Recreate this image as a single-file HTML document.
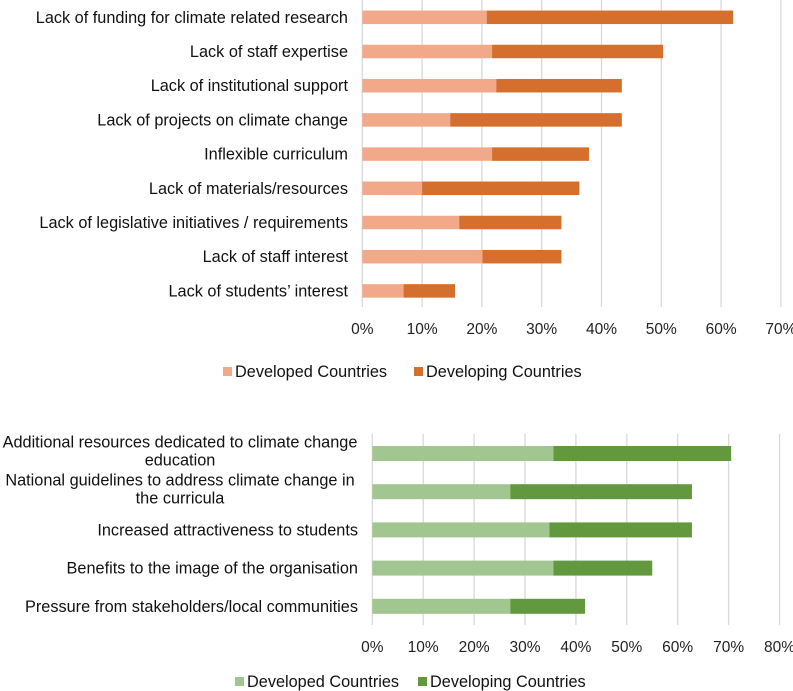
<!DOCTYPE html>
<html><head><meta charset="utf-8"><style>
body{margin:0;background:#fff;}
svg{display:block;font-family:"Liberation Sans",Arial,sans-serif;}
</style></head><body>
<svg id="c" width="793" height="691"></svg>
<script>
const topCats=["Lack of funding for climate related research","Lack of staff expertise","Lack of institutional support","Lack of projects on climate change","Inflexible curriculum","Lack of materials/resources","Lack of legislative initiatives / requirements","Lack of staff interest","Lack of students\u2019 interest"];
const topDeveloped=[20.8,21.7,22.4,14.7,21.7,10.0,16.2,20.1,6.9];
const topDeveloping=[41.2,28.6,21.0,28.7,16.2,26.3,17.1,13.2,8.6];
const topTicks=["0%","10%","20%","30%","40%","50%","60%","70%"];
const botCats=[["Additional resources dedicated to climate change","education"],["National guidelines to address climate change in","the curricula"],["Increased attractiveness to students"],["Benefits to the image of the organisation"],["Pressure from stakeholders/local communities"]];
const botDeveloped=[35.6,27.1,34.8,35.6,27.1];
const botDeveloping=[34.9,35.7,28.0,19.4,14.7];
const botTicks=["0%","10%","20%","30%","40%","50%","60%","70%","80%"];

const svg=document.getElementById('c');
const NS="http://www.w3.org/2000/svg";
function mk(tag,attrs,parent){const e=document.createElementNS(NS,tag);for(const k in attrs)e.setAttribute(k,attrs[k]);(parent||svg).appendChild(e);return e;}

function chart(o){
  const g=mk('g',{});
  
  
  const x=v=>o.x0+(v/10)*o.step;
  const y=i=>o.y0+i*o.pitch;
  o.ticks.forEach((t,i)=>{
    const gl=mk('line',{x1:x(i*10),x2:x(i*10),y1:o.gTop,y2:o.gBot,stroke:'#d9d9d9','stroke-width':1.3},g);
    
    
    const tl=mk('text',{x:x(i*10),y:o.tickY,'text-anchor':'middle','font-size':15.5,fill:'#222'},g);
    tl.textContent=t;
    
    
  });
  o.cats.forEach((c,i)=>{
    const cy=y(i);
    const b1=mk('rect',{x:x(0),y:cy-o.bh/2,width:x(o.a[i])-x(0),height:o.bh,fill:o.c1},g);
    
    
    const b2=mk('rect',{x:x(o.a[i]),y:cy-o.bh/2,width:x(o.a[i]+o.b[i])-x(o.a[i]),height:o.bh,fill:o.c2},g);
    
    
    const lines=Array.isArray(c)?c:[c];
    lines.forEach((ln,j)=>{
      let t;
      if(lines.length>1){
        t=mk('text',{x:o.wrapC,y:cy-6+j*18,'text-anchor':'middle','font-size':16.3,fill:'#111'},g);
      }else{
        t=mk('text',{x:o.labelR,y:cy+5.5,'text-anchor':'end','font-size':16.3,fill:'#111'},g);
      }
      t.textContent=ln;
      
      
    });
  });
  o.legend.forEach(l=>{
    const s=mk('rect',{x:l.x,y:o.legY-10,width:9,height:9,fill:l.c},g);
    
    
    const t=mk('text',{x:l.x+12,y:o.legY,'font-size':16.3,fill:'#111'},g);
    t.textContent=l.t;
    
    
  });
}
chart({name:'barriers-chart',cats:topCats,a:topDeveloped,b:topDeveloping,ticks:topTicks,x0:362.3,step:59.8,y0:17.3,pitch:34.2,bh:13.5,gTop:0,gBot:307,tickY:334,labelR:348,c1:'#F2A98A',c2:'#D46F2E',legY:377,
  legend:[{x:223,c:'#F2A98A',t:'Developed Countries'},{x:414,c:'#D46F2E',t:'Developing Countries'}]});
chart({name:'drivers-chart',cats:botCats,a:botDeveloped,b:botDeveloping,ticks:botTicks,x0:372.3,step:50.9,y0:453.5,pitch:38.2,bh:15,gTop:434,gBot:625,tickY:652,labelR:358,wrapC:180,c1:'#A2C690',c2:'#62993E',legY:687,
  legend:[{x:235,c:'#A2C690',t:'Developed Countries'},{x:418,c:'#62993E',t:'Developing Countries'}]});
</script>
</body></html>
